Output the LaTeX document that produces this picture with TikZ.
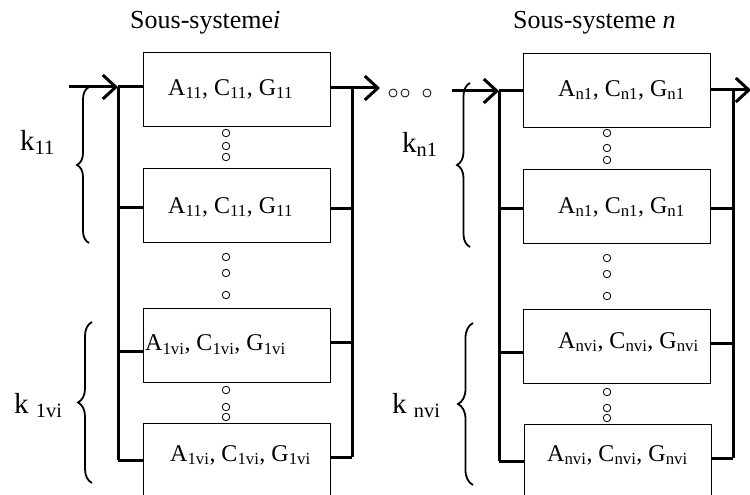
\documentclass[tikz,border=0pt]{standalone}
\usepackage{fontspec}
\setmainfont{Liberation Serif}
\usetikzlibrary{arrows.meta,decorations.pathreplacing}
\begin{document}
\begin{tikzpicture}[x=1pt,y=-1pt,
  box/.style={draw,line width=1.1pt,minimum width=187pt,minimum height=74pt,inner sep=0,anchor=north west},
  bus/.style={line width=3pt},
  arr/.style={line width=3pt,-{Straight Barb[length=13pt,width=24pt,line width=3pt]}},
  brc/.style={decorate,decoration={brace,amplitude=#1},line width=1.8pt},
  dot/.style={circle,draw,line width=0.8pt,minimum size=7.5pt,inner sep=0},
  btxt/.style={font=\fontsize{24}{28}\selectfont,inner sep=0,anchor=west},
  ttl/.style={font=\fontsize{26}{30}\selectfont,inner sep=0,anchor=base west},
  klab/.style={font=\fontsize{29}{32}\selectfont,inner sep=0,anchor=base west}
]
\clip (0,0) rectangle (750,495);
\fill[white] (0,0) rectangle (750,495);

% titles
\node[ttl] (t1) at (130,29) {Sous-systeme\textit{i}};
\node[ttl] (t2) at (513,29) {Sous-systeme \textit{n}};

% left subsystem boxes
\node[box] (L1) at (143,52) {};
\node[box] (L2) at (143,168) {};
\node[box] (L3) at (143,308) {};
\node[box] (L4) at (143,423) {};
\node[btxt] (L1t) at (168,89) {A\textsubscript{11}, C\textsubscript{11}, G\textsubscript{11}};
\node[btxt] (L2t) at (168,207) {A\textsubscript{11}, C\textsubscript{11}, G\textsubscript{11}};
\node[btxt] (L3t) at (145,345) {A\textsubscript{1vi}, C\textsubscript{1vi}, G\textsubscript{1vi}};
\node[btxt] (L4t) at (170,455) {A\textsubscript{1vi}, C\textsubscript{1vi}, G\textsubscript{1vi}};

% right subsystem boxes
\node[box] (R1) at (523,53) {};
\node[box] (R2) at (523,169) {};
\node[box] (R3) at (523,309) {};
\node[box] (R4) at (524,424) {};
\node[btxt] (R1t) at (558,90) {A\textsubscript{n1}, C\textsubscript{n1}, G\textsubscript{n1}};
\node[btxt] (R2t) at (558,207) {A\textsubscript{n1}, C\textsubscript{n1}, G\textsubscript{n1}};
\node[btxt] (R3t) at (558,342) {A\textsubscript{nvi}, C\textsubscript{nvi}, G\textsubscript{nvi}};
\node[btxt] (R4t) at (547,455) {A\textsubscript{nvi}, C\textsubscript{nvi}, G\textsubscript{nvi}};

% left buses
\coordinate (LIn) at (69,87);
\coordinate (LB1) at (118,87);
\coordinate (LB2) at (118,207);
\coordinate (LB3) at (118,351);
\coordinate (LB4) at (118,460);
\coordinate (LR1) at (352,88);
\coordinate (LR2) at (352,208);
\coordinate (LR3) at (352,342);
\coordinate (LR4) at (352,457);
\coordinate (LOut) at (380,88);
\draw[arr] (LIn) -- (LB1);
\draw[bus] (LB1) -- (LB4);
\draw[bus] (LB1) -- (LB1 -| L1.west);
\draw[bus] (LB2) -- (LB2 -| L2.west);
\draw[bus] (LB3) -- (LB3 -| L3.west);
\draw[bus] (LB4) -- (LB4 -| L4.west);
\draw[bus] (LR1) -- (LR4);
\draw[bus] (LR2 -| L2.east) -- (LR2);
\draw[bus] (LR3 -| L3.east) -- (LR3);
\draw[bus] (LR4 -| L4.east) -- (LR4);
\draw[arr] (LOut -| L1.east) -- (LOut);

% dots between subsystems
\node[dot,minimum size=8pt] (h1) at (393,93) {};
\node[dot,minimum size=8pt] (h2) at (405,93) {};
\node[dot,minimum size=8pt] (h3) at (427,93) {};

% right buses
\coordinate (RIn) at (452,91);
\coordinate (RB1) at (499,91);
\coordinate (RB2) at (499,208);
\coordinate (RB3) at (499,352);
\coordinate (RB4) at (499,461);
\coordinate (RR1) at (733,90);
\coordinate (RR2) at (733,208);
\coordinate (RR3) at (733,343);
\coordinate (RR4) at (733,458);
\coordinate (ROut) at (751,90);
\draw[arr] (RIn) -- (RB1);
\draw[bus] (RB1) -- (RB4);
\draw[bus] (RB1) -- (RB1 -| R1.west);
\draw[bus] (RB2) -- (RB2 -| R2.west);
\draw[bus] (RB3) -- (RB3 -| R3.west);
\draw[bus] (RB4) -- (RB4 -| R4.west);
\draw[bus] (RR1) -- (RR4);
\draw[bus] (RR2 -| R2.east) -- (RR2);
\draw[bus] (RR3 -| R3.east) -- (RR3);
\draw[bus] (RR4 -| R4.east) -- (RR4);
\draw[arr] (RR1 -| R1.east) -- (ROut);

% vertical dots left
\foreach \y [count=\i] in {133,146,157,257,273,295,390,407,417}
  \node[dot] (ld\i) at (226,\y) {};
% vertical dots right
\foreach \y [count=\i] in {133,148,160,258,274,296,392,408,418}
  \node[dot] (rd\i) at (607,\y) {};

% braces
\coordinate (bA1) at (89,243); \coordinate (bA2) at (89,87);
\coordinate (bB1) at (92,483); \coordinate (bB2) at (92,322);
\coordinate (bC1) at (470,247); \coordinate (bC2) at (470,83);
\coordinate (bD1) at (473,485); \coordinate (bD2) at (473,323);
\draw[brc=12pt] (bA1) -- (bA2);
\draw[brc=14pt] (bB1) -- (bB2);
\draw[brc=13pt] (bC1) -- (bC2);
\draw[brc=15pt] (bD1) -- (bD2);

% labels
\node[klab] (k1) at (20,150) {k\textsubscript{11}};
\node[klab] (k2) at (14,413) {k \textsubscript{1vi}};
\node[klab] (k3) at (402,152) {k\textsubscript{n1}};
\node[klab] (k4) at (392,413) {k \textsubscript{nvi}};
\end{tikzpicture}
\end{document}
